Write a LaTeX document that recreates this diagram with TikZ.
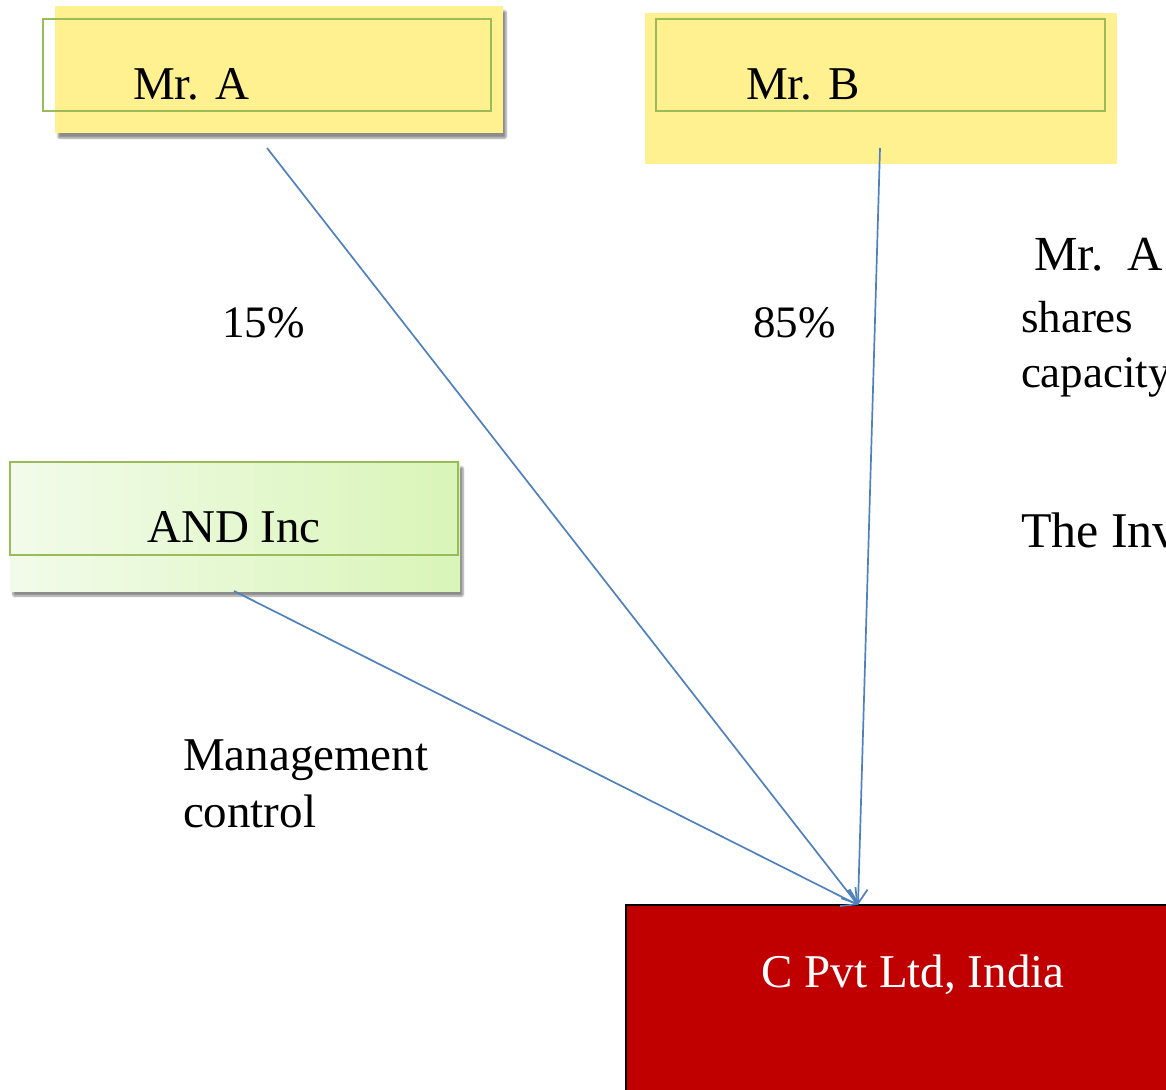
\documentclass[tikz,border=0pt]{standalone}
\usepackage{fontspec}
\setmainfont{Liberation Serif}
\usetikzlibrary{arrows.meta,shadows.blur}

\definecolor{padyellow}{HTML}{FFF18F}
\definecolor{outlinegreen}{HTML}{9BBB59}
\definecolor{mintlight}{HTML}{F2FBEA}
\definecolor{mintdark}{HTML}{D9F5B8}
\definecolor{linkblue}{HTML}{4F81BD}
\definecolor{firmred}{HTML}{C00000}

\tikzset{
  fillbox/.style={draw=none, inner sep=0pt, outer sep=0pt, anchor=north west},
  shadowed/.style={blur shadow={shadow xshift=3pt, shadow yshift=-5pt,
      shadow blur steps=6, shadow blur extra rounding=1pt, shadow opacity=45}},
  rim/.style={draw=outlinegreen, line width=1.5pt, fill=none,
      inner sep=0pt, outer sep=0pt, anchor=north west},
  big/.style={font=\fontsize{47}{56}\selectfont, inner sep=0pt, outer sep=0pt},
  link/.style={draw=linkblue, line width=1.7pt,
      -{Straight Barb[length=14pt,width=18pt,line width=1.7pt]}},
}

\begin{document}
\begin{tikzpicture}[x=1pt,y=-1pt]
\useasboundingbox (0,0) rectangle (1166,1089);
\clip (0,0) rectangle (1166,1089);

% Mr. A
\node[fillbox, shadowed, fill=padyellow, minimum width=448pt, minimum height=127pt]
  (mra) at (55,6) {};
\node[rim, minimum width=448pt, minimum height=92pt] (mrarim) at (43,19) {};
\node[big, anchor=base west] (mratext) at (133,100) {Mr. A};

% Mr. B
\node[fillbox, fill=padyellow, minimum width=472pt, minimum height=151pt]
  (mrb) at (645,13) {};
\node[rim, minimum width=449pt, minimum height=92pt] (mrbrim) at (656,19) {};
\node[big, anchor=base west] (mrbtext) at (746,100) {Mr. B};

% AND Inc
\node[fillbox, shadowed, left color=mintlight, right color=mintdark,
      minimum width=450pt, minimum height=129pt] (andinc) at (10,462) {};
\node[rim, minimum width=448pt, minimum height=93pt] (andrim) at (10,462) {};
\node[big, anchor=base] (andtext) at (234,542) {AND Inc};

% C Pvt Ltd
\node[fillbox, fill=firmred, draw=black, line width=1.5pt,
      minimum width=560pt, minimum height=200pt] (cpvt) at (626,905) {};
\node[big, anchor=base, text=white] (cpvttext) at (913,987) {C Pvt Ltd, India};

% connector ends
\coordinate (fromA) at (267,148);
\coordinate (fromB) at (880,148);
\coordinate (fromAND) at (234,591);
\coordinate (intoC) at (858,905);

\draw[link] (fromA) -- (intoC);
\draw[link] (fromB) -- (intoC);
\draw[link] (fromAND) -- (intoC);

% labels
\node[big, anchor=base west, font=\fontsize{45}{54}\selectfont] (pa) at (222,337) {15\%};
\node[big, anchor=base west, font=\fontsize{45}{54}\selectfont] (pb) at (753,337) {85\%};
\node[big, anchor=base west] (mgmt1) at (183,770) {Management};
\node[big, anchor=base west] (mgmt2) at (183,827) {control};

% side note
\node[big, anchor=base west, font=\fontsize{49}{58}\selectfont] (note1) at (1034,270) {Mr.\ \ A};
\node[big, anchor=base west, font=\fontsize{45}{54}\selectfont] (note2) at (1021,332) {shares};
\node[big, anchor=base west, font=\fontsize{45}{54}\selectfont] (note3) at (1021,387) {capacity};
\node[big, anchor=base west, font=\fontsize{50}{60}\selectfont] (note4) at (1021,547) {The Investment};
\end{tikzpicture}
\end{document}
